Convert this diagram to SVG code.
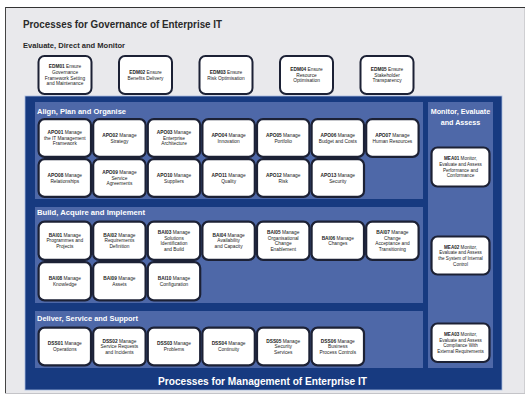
<svg xmlns="http://www.w3.org/2000/svg" width="531" height="402" viewBox="0 0 531 402">
<style>
text{font-family:"Liberation Sans",Arial,sans-serif}
.title{font-size:11.5px;font-weight:bold;fill:#2a2a2a}
.sub{font-size:7.2px;font-weight:bold;fill:#2a2a2a}
.hdr{font-size:7.2px;font-weight:bold;fill:#ffffff}
.foot{font-size:11.5px;font-weight:bold;fill:#ffffff}
.box{fill:#ffffff;stroke:#1c2135;stroke-width:2.2}
.edm{fill:#ffffff;stroke:#1c2135;stroke-width:2}
.t{font-size:4.8px;fill:#222;text-anchor:middle}
.m{font-size:4.6px;fill:#222;text-anchor:middle}
.b{font-weight:bold}
.sec{fill:#4e68a8}
</style>
<rect x="0" y="0" width="531" height="402" fill="#ffffff"/>
<rect x="5.5" y="7.5" width="519" height="386" fill="#e9e9ec"/>
<line x1="5" y1="7.5" x2="525" y2="7.5" stroke="#333" stroke-width="1.2"/>
<line x1="5.5" y1="7" x2="5.5" y2="394" stroke="#444" stroke-width="1"/>
<line x1="524.5" y1="8" x2="524.5" y2="394" stroke="#cfcfd2" stroke-width="1"/>
<line x1="5" y1="393.5" x2="525" y2="393.5" stroke="#c4c4c8" stroke-width="1"/>

<text class="title" x="23" y="28" textLength="199" lengthAdjust="spacingAndGlyphs">Processes for Governance of Enterprise IT</text>
<text class="sub" x="23" y="48" textLength="102" lengthAdjust="spacingAndGlyphs">Evaluate, Direct and Monitor</text>

<g id="EDM01"><rect class="edm" x="38.5" y="56" width="53" height="38" rx="6"/><text class="t"><tspan x="65" y="68.3"><tspan class="b">EDM01</tspan> Ensure</tspan><tspan x="65" y="73.9">Governance</tspan><tspan x="65" y="79.5">Framework Setting</tspan><tspan x="65" y="85.1">and Maintenance</tspan></text></g>
<g id="EDM02"><rect class="edm" x="119" y="56" width="53" height="38" rx="6"/><text class="t"><tspan x="145.5" y="73.9"><tspan class="b">EDM02</tspan> Ensure</tspan><tspan x="145.5" y="79.5">Benefits Delivery</tspan></text></g>
<g id="EDM03"><rect class="edm" x="199.5" y="56" width="53" height="38" rx="6"/><text class="t"><tspan x="226" y="73.9"><tspan class="b">EDM03</tspan> Ensure</tspan><tspan x="226" y="79.5">Risk Optimisation</tspan></text></g>
<g id="EDM04"><rect class="edm" x="280" y="56" width="53" height="38" rx="6"/><text class="t"><tspan x="306.5" y="71.1"><tspan class="b">EDM04</tspan> Ensure</tspan><tspan x="306.5" y="76.7">Resource</tspan><tspan x="306.5" y="82.3">Optimisation</tspan></text></g>
<g id="EDM05"><rect class="edm" x="360.5" y="56" width="53" height="38" rx="6"/><text class="t"><tspan x="387" y="71.1"><tspan class="b">EDM05</tspan> Ensure</tspan><tspan x="387" y="76.7">Stakeholder</tspan><tspan x="387" y="82.3">Transparency</tspan></text></g>

<g id="management-frame">
<rect x="25" y="96" width="477" height="294" fill="#173a80" stroke="#a8bbdf" stroke-width="0.8"/>
<rect class="sec" x="35" y="102" width="388" height="97"/>
<rect class="sec" x="35" y="207" width="388" height="96"/>
<rect class="sec" x="35" y="311" width="388" height="57"/>
<rect class="sec" x="428" y="102" width="65" height="266"/>
<text class="hdr" x="37" y="114" textLength="89" lengthAdjust="spacingAndGlyphs">Align, Plan and Organise</text>
<text class="hdr" x="37" y="214.5" textLength="108" lengthAdjust="spacingAndGlyphs">Build, Acquire and Implement</text>
<text class="hdr" x="37" y="321" textLength="101" lengthAdjust="spacingAndGlyphs">Deliver, Service and Support</text>
<text class="hdr" x="460.5" y="114" text-anchor="middle">Monitor, Evaluate</text>
<text class="hdr" x="460.5" y="124.5" text-anchor="middle">and Assess</text>
<text class="foot" x="158" y="385" textLength="209" lengthAdjust="spacingAndGlyphs">Processes for Management of Enterprise IT</text>
</g>

<g id="APO01"><rect class="box" x="38.6" y="119.1" width="52.4" height="37.8" rx="6"/><text class="t"><tspan x="64.8" y="134.1"><tspan class="b">APO01</tspan> Manage</tspan><tspan x="64.8" y="139.7">the IT Management</tspan><tspan x="64.8" y="145.3">Framework</tspan></text></g>
<g id="APO02"><rect class="box" x="93.2" y="119.1" width="52.4" height="37.8" rx="6"/><text class="t"><tspan x="119.4" y="136.9"><tspan class="b">APO02</tspan> Manage</tspan><tspan x="119.4" y="142.5">Strategy</tspan></text></g>
<g id="APO03"><rect class="box" x="147.8" y="119.1" width="52.4" height="37.8" rx="6"/><text class="t"><tspan x="174" y="134.1"><tspan class="b">APO03</tspan> Manage</tspan><tspan x="174" y="139.7">Enterprise</tspan><tspan x="174" y="145.3">Architecture</tspan></text></g>
<g id="APO04"><rect class="box" x="202.4" y="119.1" width="52.4" height="37.8" rx="6"/><text class="t"><tspan x="228.6" y="136.9"><tspan class="b">APO04</tspan> Manage</tspan><tspan x="228.6" y="142.5">Innovation</tspan></text></g>
<g id="APO05"><rect class="box" x="257" y="119.1" width="52.4" height="37.8" rx="6"/><text class="t"><tspan x="283.2" y="136.9"><tspan class="b">APO05</tspan> Manage</tspan><tspan x="283.2" y="142.5">Portfolio</tspan></text></g>
<g id="APO06"><rect class="box" x="311.6" y="119.1" width="52.4" height="37.8" rx="6"/><text class="t"><tspan x="337.8" y="136.9"><tspan class="b">APO06</tspan> Manage</tspan><tspan x="337.8" y="142.5">Budget and Costs</tspan></text></g>
<g id="APO07"><rect class="box" x="366.2" y="119.1" width="52.4" height="37.8" rx="6"/><text class="t"><tspan x="392.4" y="136.9"><tspan class="b">APO07</tspan> Manage</tspan><tspan x="392.4" y="142.5">Human Resources</tspan></text></g>
<g id="APO08"><rect class="box" x="38.6" y="159.1" width="52.4" height="37.8" rx="6"/><text class="t"><tspan x="64.8" y="176.9"><tspan class="b">APO08</tspan> Manage</tspan><tspan x="64.8" y="182.5">Relationships</tspan></text></g>
<g id="APO09"><rect class="box" x="93.2" y="159.1" width="52.4" height="37.8" rx="6"/><text class="t"><tspan x="119.4" y="174.1"><tspan class="b">APO09</tspan> Manage</tspan><tspan x="119.4" y="179.7">Service</tspan><tspan x="119.4" y="185.3">Agreements</tspan></text></g>
<g id="APO10"><rect class="box" x="147.8" y="159.1" width="52.4" height="37.8" rx="6"/><text class="t"><tspan x="174" y="176.9"><tspan class="b">APO10</tspan> Manage</tspan><tspan x="174" y="182.5">Suppliers</tspan></text></g>
<g id="APO11"><rect class="box" x="202.4" y="159.1" width="52.4" height="37.8" rx="6"/><text class="t"><tspan x="228.6" y="176.9"><tspan class="b">APO11</tspan> Manage</tspan><tspan x="228.6" y="182.5">Quality</tspan></text></g>
<g id="APO12"><rect class="box" x="257" y="159.1" width="52.4" height="37.8" rx="6"/><text class="t"><tspan x="283.2" y="176.9"><tspan class="b">APO12</tspan> Manage</tspan><tspan x="283.2" y="182.5">Risk</tspan></text></g>
<g id="APO13"><rect class="box" x="311.6" y="159.1" width="52.4" height="37.8" rx="6"/><text class="t"><tspan x="337.8" y="176.9"><tspan class="b">APO13</tspan> Manage</tspan><tspan x="337.8" y="182.5">Security</tspan></text></g>

<g id="BAI01"><rect class="box" x="38.6" y="221.6" width="52.4" height="38.3" rx="6"/><text class="t"><tspan x="64.8" y="236.85"><tspan class="b">BAI01</tspan> Manage</tspan><tspan x="64.8" y="242.45">Programmes and</tspan><tspan x="64.8" y="248.05">Projects</tspan></text></g>
<g id="BAI02"><rect class="box" x="93.2" y="221.6" width="52.4" height="38.3" rx="6"/><text class="t"><tspan x="119.4" y="236.85"><tspan class="b">BAI02</tspan> Manage</tspan><tspan x="119.4" y="242.45">Requirements</tspan><tspan x="119.4" y="248.05">Definition</tspan></text></g>
<g id="BAI03"><rect class="box" x="147.8" y="221.6" width="52.4" height="38.3" rx="6"/><text class="t"><tspan x="174" y="234.05"><tspan class="b">BAI03</tspan> Manage</tspan><tspan x="174" y="239.65">Solutions</tspan><tspan x="174" y="245.25">Identification</tspan><tspan x="174" y="250.85">and Build</tspan></text></g>
<g id="BAI04"><rect class="box" x="202.4" y="221.6" width="52.4" height="38.3" rx="6"/><text class="t"><tspan x="228.6" y="236.85"><tspan class="b">BAI04</tspan> Manage</tspan><tspan x="228.6" y="242.45">Availability</tspan><tspan x="228.6" y="248.05">and Capacity</tspan></text></g>
<g id="BAI05"><rect class="box" x="257" y="221.6" width="52.4" height="38.3" rx="6"/><text class="t"><tspan x="283.2" y="234.05"><tspan class="b">BAI05</tspan> Manage</tspan><tspan x="283.2" y="239.65">Organisational</tspan><tspan x="283.2" y="245.25">Change</tspan><tspan x="283.2" y="250.85">Enablement</tspan></text></g>
<g id="BAI06"><rect class="box" x="311.6" y="221.6" width="52.4" height="38.3" rx="6"/><text class="t"><tspan x="337.8" y="239.65"><tspan class="b">BAI06</tspan> Manage</tspan><tspan x="337.8" y="245.25">Changes</tspan></text></g>
<g id="BAI07"><rect class="box" x="366.2" y="221.6" width="52.4" height="38.3" rx="6"/><text class="t"><tspan x="392.4" y="234.05"><tspan class="b">BAI07</tspan> Manage</tspan><tspan x="392.4" y="239.65">Change</tspan><tspan x="392.4" y="245.25">Acceptance and</tspan><tspan x="392.4" y="250.85">Transitioning</tspan></text></g>
<g id="BAI08"><rect class="box" x="38.6" y="262.1" width="52.4" height="38.3" rx="6"/><text class="t"><tspan x="64.8" y="280.15"><tspan class="b">BAI08</tspan> Manage</tspan><tspan x="64.8" y="285.75">Knowledge</tspan></text></g>
<g id="BAI09"><rect class="box" x="93.2" y="262.1" width="52.4" height="38.3" rx="6"/><text class="t"><tspan x="119.4" y="280.15"><tspan class="b">BAI09</tspan> Manage</tspan><tspan x="119.4" y="285.75">Assets</tspan></text></g>
<g id="BAI10"><rect class="box" x="147.8" y="262.1" width="52.4" height="38.3" rx="6"/><text class="t"><tspan x="174" y="280.15"><tspan class="b">BAI10</tspan> Manage</tspan><tspan x="174" y="285.75">Configuration</tspan></text></g>

<g id="DSS01"><rect class="box" x="38.6" y="327.6" width="52.4" height="37.8" rx="6"/><text class="t"><tspan x="64.8" y="345.4"><tspan class="b">DSS01</tspan> Manage</tspan><tspan x="64.8" y="351">Operations</tspan></text></g>
<g id="DSS02"><rect class="box" x="93.2" y="327.6" width="52.4" height="37.8" rx="6"/><text class="t"><tspan x="119.4" y="342.6"><tspan class="b">DSS02</tspan> Manage</tspan><tspan x="119.4" y="348.2">Service Requests</tspan><tspan x="119.4" y="353.8">and Incidents</tspan></text></g>
<g id="DSS03"><rect class="box" x="147.8" y="327.6" width="52.4" height="37.8" rx="6"/><text class="t"><tspan x="174" y="345.4"><tspan class="b">DSS03</tspan> Manage</tspan><tspan x="174" y="351">Problems</tspan></text></g>
<g id="DSS04"><rect class="box" x="202.4" y="327.6" width="52.4" height="37.8" rx="6"/><text class="t"><tspan x="228.6" y="345.4"><tspan class="b">DSS04</tspan> Manage</tspan><tspan x="228.6" y="351">Continuity</tspan></text></g>
<g id="DSS05"><rect class="box" x="257" y="327.6" width="52.4" height="37.8" rx="6"/><text class="t"><tspan x="283.2" y="342.6"><tspan class="b">DSS05</tspan> Manage</tspan><tspan x="283.2" y="348.2">Security</tspan><tspan x="283.2" y="353.8">Services</tspan></text></g>
<g id="DSS06"><rect class="box" x="311.6" y="327.6" width="52.4" height="37.8" rx="6"/><text class="t"><tspan x="337.8" y="342.6"><tspan class="b">DSS06</tspan> Manage</tspan><tspan x="337.8" y="348.2">Business</tspan><tspan x="337.8" y="353.8">Process Controls</tspan></text></g>

<g id="MEA01"><rect class="box" x="431.5" y="147.5" width="58" height="39" rx="6"/><text class="m"><tspan x="460.5" y="160.3"><tspan class="b">MEA01</tspan> Monitor,</tspan><tspan x="460.5" y="165.9">Evaluate and Assess</tspan><tspan x="460.5" y="171.5">Performance and</tspan><tspan x="460.5" y="177.1">Conformance</tspan></text></g>
<g id="MEA02"><rect class="box" x="431.5" y="236.5" width="58" height="38" rx="6"/><text class="m"><tspan x="460.5" y="248.8"><tspan class="b">MEA02</tspan> Monitor,</tspan><tspan x="460.5" y="254.4">Evaluate and Assess</tspan><tspan x="460.5" y="260">the System of Internal</tspan><tspan x="460.5" y="265.6">Control</tspan></text></g>
<g id="MEA03"><rect class="box" x="431.5" y="323.5" width="58" height="38.5" rx="6"/><text class="m"><tspan x="460.5" y="336.05"><tspan class="b">MEA03</tspan> Monitor,</tspan><tspan x="460.5" y="341.65">Evaluate and Assess</tspan><tspan x="460.5" y="347.25">Compliance With</tspan><tspan x="460.5" y="352.85">External Requirements</tspan></text></g>

<g id="connectors"></g>
</svg>
